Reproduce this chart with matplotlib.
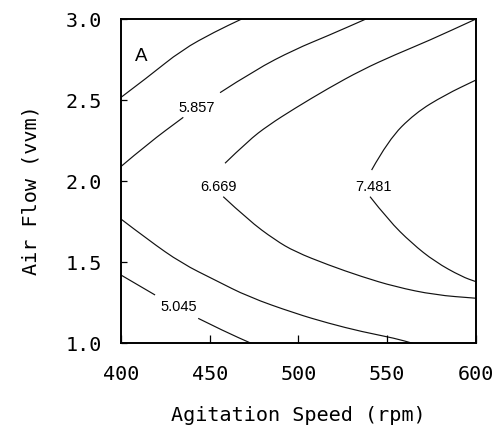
import matplotlib
matplotlib.use("Agg")
import matplotlib.pyplot as plt
from matplotlib.path import Path
from matplotlib.patches import PathPatch

# contour lines (agitation speed rpm, air flow vvm)
levels = ["5.045", "5.857", "6.669", "7.481"]

# 5.045 - upper branch and lower branch (lower one broken by the label)
rpm_5045_up = [400, 415.4, 434.2, 453.0, 468.0]
air_5045_up = [2.517, 2.644, 2.809, 2.922, 3.0]
rpm_5045_lo_a = [400, 419.2]
air_5045_lo_a = [1.422, 1.299]
rpm_5045_lo_b = [443.5, 458.6, 473.6]
air_5045_lo_b = [1.155, 1.073, 1.0]

# 5.857 - upper branch broken by the label
rpm_5857_up_a = [400, 415.4, 435.1]
air_5857_up_a = [2.091, 2.234, 2.394]
rpm_5857_up_b = [455.8, 475.5, 498.0, 516.6, 538.0]
air_5857_up_b = [2.546, 2.686, 2.813, 2.897, 3.0]
rpm_5857_lo = [400, 415.4, 434.2, 453.0, 471.7, 498.0, 516.8, 535.6, 554.4, 564.7]
air_5857_lo = [1.767, 1.638, 1.494, 1.391, 1.288, 1.186, 1.125, 1.073, 1.032, 1.0]

# 6.669
rpm_6669_up = [458.6, 471.7, 483.0, 498.0, 516.8, 535.6, 554.4, 573.1, 600]
air_6669_up = [2.111, 2.250, 2.345, 2.450, 2.573, 2.686, 2.780, 2.865, 3.0]
rpm_6669_lo = [457.6, 471.7, 486.8, 498.0, 516.8, 535.6, 554.4, 576.9, 600]
air_6669_lo = [1.905, 1.761, 1.638, 1.566, 1.484, 1.412, 1.350, 1.299, 1.279]

# 7.481
rpm_7481_up = [541.2, 550.6, 565.6, 582.5, 600]
air_7481_up = [2.069, 2.254, 2.419, 2.532, 2.624]
rpm_7481_lo = [540.3, 550.6, 563.8, 576.9, 592.0, 600]
air_7481_lo = [1.905, 1.761, 1.618, 1.504, 1.412, 1.381]

x_ticks = [400, 450, 500, 550, 600]
y_ticks = [1.0, 1.5, 2.0, 2.5, 3.0]


def smooth_line(ax, xs, ys):
    # quadratic bezier through the read points (points act as control points)
    pts = list(zip(xs, ys))
    verts = [pts[0]]
    codes = [Path.MOVETO]
    for i in range(1, len(pts) - 1):
        mid = ((pts[i][0] + pts[i + 1][0]) / 2, (pts[i][1] + pts[i + 1][1]) / 2)
        verts += [pts[i], mid]
        codes += [Path.CURVE3, Path.CURVE3]
    verts.append(pts[-1])
    codes.append(Path.LINETO)
    ax.add_patch(PathPatch(Path(verts, codes), fill=False, edgecolor="#111111", lw=0.85))


fig = plt.figure(figsize=(5.01, 4.33), dpi=100)
ax = fig.add_axes([0.2415, 0.2067, 0.7086, 0.7494])

lines = [
    (rpm_5045_up, air_5045_up), (rpm_5045_lo_a, air_5045_lo_a), (rpm_5045_lo_b, air_5045_lo_b),
    (rpm_5857_up_a, air_5857_up_a), (rpm_5857_up_b, air_5857_up_b), (rpm_5857_lo, air_5857_lo),
    (rpm_6669_up, air_6669_up), (rpm_6669_lo, air_6669_lo),
    (rpm_7481_up, air_7481_up), (rpm_7481_lo, air_7481_lo),
]
for xs, ys in lines:
    smooth_line(ax, xs, ys)

lab_font = dict(family=["Liberation Sans", "DejaVu Sans"], size=10.5, ha="center", va="baseline")
ax.text(442.6, 2.429, levels[1], **lab_font)
ax.text(454.8, 1.942, levels[2], **lab_font)
ax.text(542.1, 1.942, levels[3], **lab_font)
ax.text(432.8, 1.202, levels[0], **lab_font)
ax.text(407.9, 2.743, "A", family=["Liberation Sans", "DejaVu Sans"], size=13.5, ha="left", va="baseline")

ax.set_xlim(400, 600)
ax.set_ylim(1.0, 3.0)
ax.set_xticks(x_ticks)
ax.set_yticks(y_ticks)
ax.set_xticklabels([str(v) for v in x_ticks])
ax.set_yticklabels(["%.1f" % v for v in y_ticks])
mono = "DejaVu Sans Mono"
for t in ax.get_xticklabels() + ax.get_yticklabels():
    t.set_family(mono)
    t.set_fontsize(14.5)
ax.tick_params(axis="x", direction="in", length=6, width=0.9, pad=15.5, top=False)
ax.tick_params(axis="y", direction="in", length=4.5, width=0.9, pad=13.5, right=False)
for s in ax.spines.values():
    s.set_linewidth(1.4)

ax.set_xlabel("Agitation Speed (rpm)", family=mono, fontsize=14.5, va="center")
ax.set_ylabel("Air Flow (vvm)", family=mono, fontsize=14.5, va="center")
ax.xaxis.set_label_coords(0.5, -0.2234)
ax.yaxis.set_label_coords(-0.2535, 0.473)

fig.savefig("out.png", dpi=100)
